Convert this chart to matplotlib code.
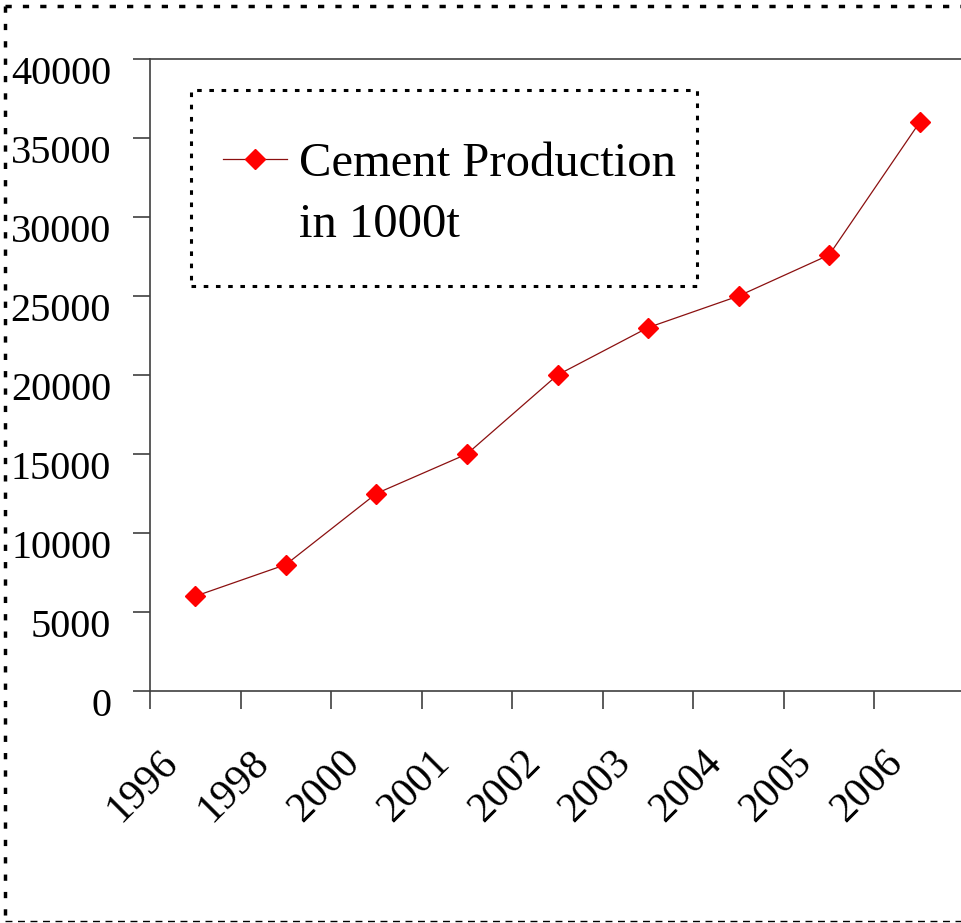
import numpy as np
import matplotlib
matplotlib.use('Agg')
import matplotlib.pyplot as plt
from matplotlib.transforms import ScaledTranslation
from matplotlib.lines import Line2D
from matplotlib.patches import Rectangle

plt.rcParams['font.family'] = ['Liberation Serif', 'DejaVu Serif']

# data
years = ['1996', '1998', '2000', '2001', '2002', '2003', '2004', '2005', '2006']
production = [6000, 8000, 12500, 15000, 20000, 23000, 25000, 27600, 36000]
y_ticks = list(range(0, 40001, 5000))

W, H = 961, 923
fig = plt.figure(figsize=(W / 100, H / 100), dpi=100)
ax = fig.add_axes([150 / W, (H - 691) / H, 815 / W, 632 / H])

x = np.arange(len(years))
ax.plot(x, production, color='#8b1010', lw=0.9, marker='D', ms=10,
        mfc='#ff0000', mec='#ff0000', label='Cement Production')
# second legend row, no handle
ax.plot([], [], color='none', label='in 1000t')

ax.set_xlim(-0.5, len(years) - 0.5)
ax.set_ylim(0, 40000)
ax.set_yticks(y_ticks)
ax.set_yticklabels([str(v) for v in y_ticks], fontsize=29)

# boundary ticks (no labels), labels on category centres
ax.set_xticks(np.arange(-0.5, len(years), 1.0))
ax.set_xticklabels([])
ax.set_xticks(x, minor=True)
ax.set_xticklabels(years, minor=True, fontsize=30, rotation=45,
                   ha='right', va='center', rotation_mode='anchor')

axis_col = '#404040'
for side in ['left', 'top', 'bottom']:
    ax.spines[side].set_color(axis_col)
    ax.spines[side].set_linewidth(1.2)
ax.spines['right'].set_visible(False)
ax.tick_params(axis='y', direction='out', length=12, width=1.2, color=axis_col, pad=16)
ax.tick_params(axis='x', which='major', direction='out', length=13, width=1.2, color=axis_col)
ax.tick_params(axis='x', which='minor', length=0, pad=0)

for lbl in ax.get_yticklabels():
    lbl.set_transform(lbl.get_transform() + ScaledTranslation(0, -0.11, fig.dpi_scale_trans))
for lbl in ax.get_xticklabels(minor=True):
    lbl.set_transform(lbl.get_transform() + ScaledTranslation(-0.23, -0.66, fig.dpi_scale_trans))

# legend
leg = ax.legend(loc='upper left', bbox_to_anchor=(199 / W, 1 - 118 / H),
                bbox_transform=fig.transFigure, frameon=False, fontsize=35,
                handlelength=1.3, handletextpad=0.25, borderpad=0, labelspacing=0.35)
fig.add_artist(Rectangle((191 / W, 1 - 286 / H), 506 / W, 196 / H, transform=fig.transFigure,
                         fill=False, ec='black', lw=2.2, ls=(0, (1.5, 2.5))))

# dashed outer border
fig.add_artist(Line2D([5 / W, 1], [1 - 6 / H, 1 - 6 / H], transform=fig.transFigure,
                      color='black', lw=2.5, ls=(0, (1.8, 3.2))))
fig.add_artist(Line2D([5 / W, 5 / W], [1 - 6 / H, 1 - 921 / H], transform=fig.transFigure,
                      color='black', lw=2.5, ls=(0, (1.8, 3.2))))
fig.add_artist(Line2D([5 / W, 1], [1 - 921 / H, 1 - 921 / H], transform=fig.transFigure,
                      color='black', lw=1.0, ls=(0, (5, 4))))

fig.savefig('out.png', dpi=100)
